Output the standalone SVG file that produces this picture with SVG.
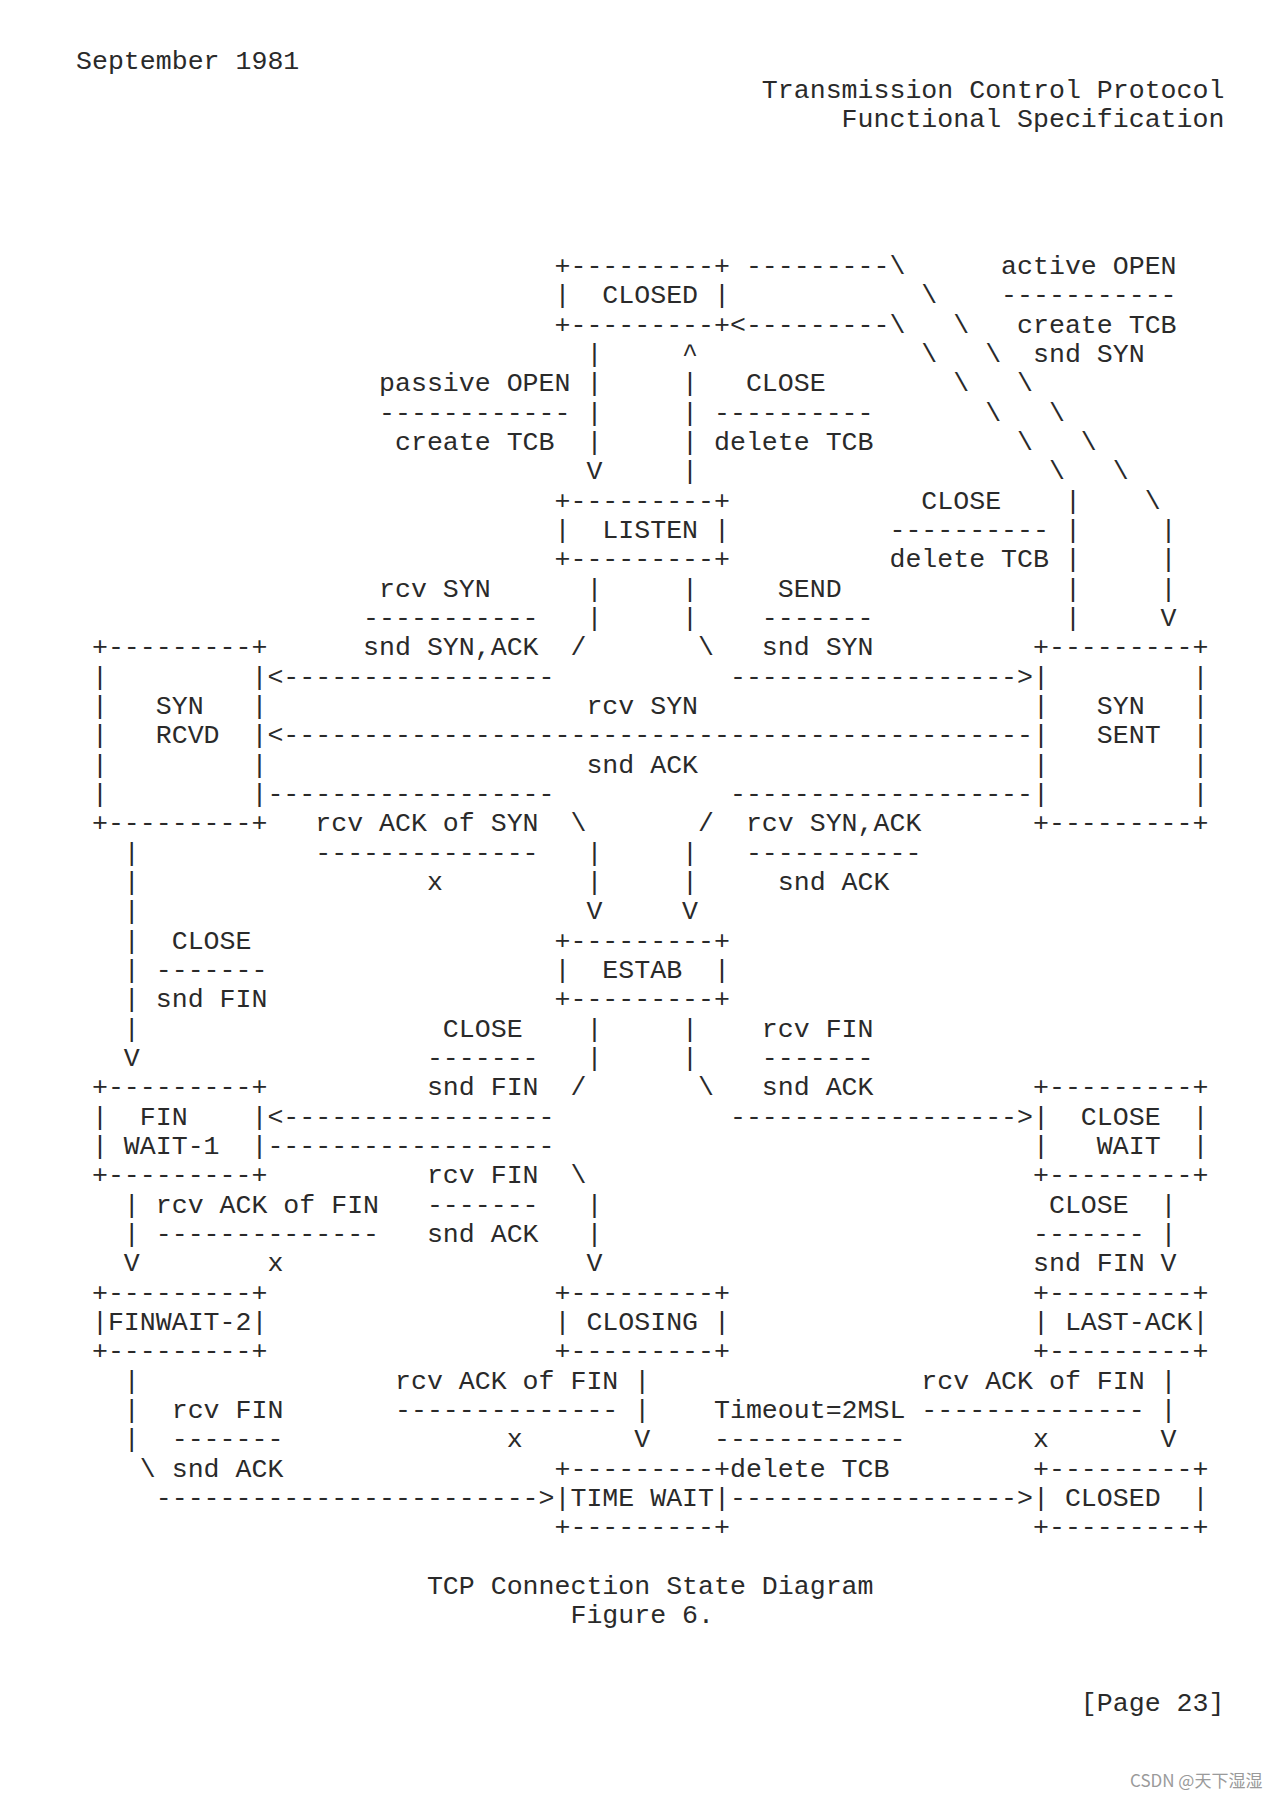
<svg xmlns="http://www.w3.org/2000/svg" width="1282" height="1799" viewBox="0 0 1282 1799">
<style>
text { font-family: "Liberation Mono", "DejaVu Sans Mono", monospace; font-size: 26.58px; fill: #2a2a2a; white-space: pre; }
.wm { font-family: "Noto Sans CJK SC", "Noto Sans", sans-serif; font-size: 17px; fill: #9a9a9a; }
</style>
<rect width="1282" height="1799" fill="#ffffff"/>
<g id="header" xml:space="preserve">
<text x="76" y="68.7">September 1981</text>
<text x="761.85" y="98.0">Transmission Control Protocol</text>
<text x="841.6" y="127.4">Functional Specification</text>
</g>
<g id="nodes" xml:space="preserve">
<g id="node-closed">
<text x="554.5" y="274.0">+---------+</text>
<text x="554.5" y="303.3">|  CLOSED |</text>
<text x="554.5" y="332.7">+---------+</text>
</g>
<g id="node-listen">
<text x="554.5" y="508.6">+---------+</text>
<text x="554.5" y="538.0">|  LISTEN |</text>
<text x="554.5" y="567.3">+---------+</text>
</g>
<g id="node-syn-rcvd">
<text x="91.95" y="655.3">+---------+</text>
<text x="91.95" y="684.6">|         |</text>
<text x="91.95" y="714.0">|   SYN   |</text>
<text x="91.95" y="743.3">|   RCVD  |</text>
<text x="91.95" y="772.6">|         |</text>
<text x="91.95" y="801.9">|         |</text>
<text x="91.95" y="831.3">+---------+</text>
</g>
<g id="node-syn-sent">
<text x="1033" y="655.3">+---------+</text>
<text x="1033" y="684.6">|         |</text>
<text x="1033" y="714.0">|   SYN   |</text>
<text x="1033" y="743.3">|   SENT  |</text>
<text x="1033" y="772.6">|         |</text>
<text x="1033" y="801.9">|         |</text>
<text x="1033" y="831.3">+---------+</text>
</g>
<g id="node-estab">
<text x="554.5" y="948.6">+---------+</text>
<text x="554.5" y="977.9">|  ESTAB  |</text>
<text x="554.5" y="1007.3">+---------+</text>
</g>
<g id="node-fin-wait-1">
<text x="91.95" y="1095.2">+---------+</text>
<text x="91.95" y="1124.6">|  FIN    |</text>
<text x="91.95" y="1153.9">| WAIT-1  |</text>
<text x="91.95" y="1183.2">+---------+</text>
</g>
<g id="node-close-wait">
<text x="1033" y="1095.2">+---------+</text>
<text x="1033" y="1124.6">|  CLOSE  |</text>
<text x="1033" y="1153.9">|   WAIT  |</text>
<text x="1033" y="1183.2">+---------+</text>
</g>
<g id="node-finwait-2">
<text x="91.95" y="1300.6">+---------+</text>
<text x="91.95" y="1329.9">|FINWAIT-2|</text>
<text x="91.95" y="1359.2">+---------+</text>
</g>
<g id="node-closing">
<text x="554.5" y="1300.6">+---------+</text>
<text x="554.5" y="1329.9">| CLOSING |</text>
<text x="554.5" y="1359.2">+---------+</text>
</g>
<g id="node-last-ack">
<text x="1033" y="1300.6">+---------+</text>
<text x="1033" y="1329.9">| LAST-ACK|</text>
<text x="1033" y="1359.2">+---------+</text>
</g>
<g id="node-time-wait">
<text x="554.5" y="1476.5">+---------+</text>
<text x="554.5" y="1505.9">|TIME WAIT|</text>
<text x="554.5" y="1535.2">+---------+</text>
</g>
<g id="node-closed-final">
<text x="1033" y="1476.5">+---------+</text>
<text x="1033" y="1505.9">| CLOSED  |</text>
<text x="1033" y="1535.2">+---------+</text>
</g>
</g>
<g id="connectors" xml:space="preserve">
<text x="745.9" y="274.0">---------\</text>
<text x="921.35" y="303.3">\</text>
<text x="729.95" y="332.7">&lt;---------\</text>
<text x="953.25" y="332.7">\</text>
<text x="586.4" y="362.0">|</text><text x="682.1" y="362.0">^</text><text x="921.35" y="362.0">\</text><text x="985.15" y="362.0">\</text>
<text x="586.4" y="391.3">|</text><text x="682.1" y="391.3">|</text><text x="953.25" y="391.3">\</text><text x="1017.05" y="391.3">\</text>
<text x="586.4" y="420.7">|</text><text x="682.1" y="420.7">|</text><text x="985.15" y="420.7">\</text><text x="1048.95" y="420.7">\</text>
<text x="586.4" y="450.0">|</text><text x="682.1" y="450.0">|</text><text x="1017.05" y="450.0">\</text><text x="1080.85" y="450.0">\</text>
<text x="586.4" y="479.3">V</text><text x="682.1" y="479.3">|</text><text x="1048.95" y="479.3">\</text><text x="1112.75" y="479.3">\</text>
<text x="1064.9" y="508.6">|</text><text x="1144.65" y="508.6">\</text>
<text x="1064.9" y="538.0">|</text><text x="1160.6" y="538.0">|</text>
<text x="1064.9" y="567.3">|</text><text x="1160.6" y="567.3">|</text>
<text x="586.4" y="596.6">|</text><text x="682.1" y="596.6">|</text><text x="1064.9" y="596.6">|</text><text x="1160.6" y="596.6">|</text>
<text x="586.4" y="626.0">|</text><text x="682.1" y="626.0">|</text><text x="1064.9" y="626.0">|</text><text x="1160.6" y="626.0">V</text>
<text x="570.45" y="655.3">/</text><text x="698.05" y="655.3">\</text>
<text x="267.4" y="684.6">&lt;-----------------</text><text x="729.95" y="684.6">------------------&gt;</text>
<text x="267.4" y="743.3">&lt;-----------------------------------------------</text>
<text x="267.4" y="801.9">------------------</text><text x="729.95" y="801.9">-------------------</text>
<text x="570.45" y="831.3">\</text><text x="698.05" y="831.3">/</text>
<text x="123.85" y="860.6">|</text><text x="586.4" y="860.6">|</text><text x="682.1" y="860.6">|</text>
<text x="123.85" y="889.9">|</text><text x="586.4" y="889.9">|</text><text x="682.1" y="889.9">|</text>
<text x="123.85" y="919.3">|</text><text x="586.4" y="919.3">V</text><text x="682.1" y="919.3">V</text>
<text x="123.85" y="948.6">|</text>
<text x="123.85" y="977.9">|</text>
<text x="123.85" y="1007.3">|</text>
<text x="123.85" y="1036.6">|</text><text x="586.4" y="1036.6">|</text><text x="682.1" y="1036.6">|</text>
<text x="123.85" y="1065.9">V</text><text x="586.4" y="1065.9">|</text><text x="682.1" y="1065.9">|</text>
<text x="570.45" y="1095.2">/</text><text x="698.05" y="1095.2">\</text>
<text x="267.4" y="1124.6">&lt;-----------------</text><text x="729.95" y="1124.6">------------------&gt;</text>
<text x="267.4" y="1153.9">------------------</text>
<text x="570.45" y="1183.2">\</text>
<text x="123.85" y="1212.6">|</text><text x="586.4" y="1212.6">|</text><text x="1160.6" y="1212.6">|</text>
<text x="123.85" y="1241.9">|</text><text x="586.4" y="1241.9">|</text><text x="1160.6" y="1241.9">|</text>
<text x="123.85" y="1271.2">V</text><text x="586.4" y="1271.2">V</text><text x="1160.6" y="1271.2">V</text>
<text x="123.85" y="1388.6">|</text><text x="634.25" y="1388.6">|</text><text x="1160.6" y="1388.6">|</text>
<text x="123.85" y="1417.9">|</text><text x="634.25" y="1417.9">|</text><text x="1160.6" y="1417.9">|</text>
<text x="123.85" y="1447.2">|</text><text x="634.25" y="1447.2">V</text><text x="1160.6" y="1447.2">V</text>
<text x="139.8" y="1476.5">\</text>
<text x="155.75" y="1505.9">------------------------&gt;</text><text x="729.95" y="1505.9">------------------&gt;</text>
</g>
<g id="labels" xml:space="preserve">
<text x="1001.1" y="274.0">active OPEN</text>
<text x="1001.1" y="303.3">-----------</text>
<text x="1017.05" y="332.7">create TCB</text>
<text x="1033" y="362.0">snd SYN</text>
<text x="379.05" y="391.3">passive OPEN</text><text x="745.9" y="391.3">CLOSE</text>
<text x="379.05" y="420.7">------------</text><text x="714" y="420.7">----------</text>
<text x="395" y="450.0">create TCB</text><text x="714" y="450.0">delete TCB</text>
<text x="921.35" y="508.6">CLOSE</text>
<text x="889.45" y="538.0">----------</text>
<text x="889.45" y="567.3">delete TCB</text>
<text x="379.05" y="596.6">rcv SYN</text><text x="777.8" y="596.6">SEND</text>
<text x="363.1" y="626.0">-----------</text><text x="761.85" y="626.0">-------</text>
<text x="363.1" y="655.3">snd SYN,ACK</text><text x="761.85" y="655.3">snd SYN</text>
<text x="586.4" y="714.0">rcv SYN</text>
<text x="586.4" y="772.6">snd ACK</text>
<text x="315.25" y="831.3">rcv ACK of SYN</text><text x="745.9" y="831.3">rcv SYN,ACK</text>
<text x="315.25" y="860.6">--------------</text><text x="745.9" y="860.6">-----------</text>
<text x="426.9" y="889.9">x</text><text x="777.8" y="889.9">snd ACK</text>
<text x="171.7" y="948.6">CLOSE</text>
<text x="155.75" y="977.9">-------</text>
<text x="155.75" y="1007.3">snd FIN</text>
<text x="442.85" y="1036.6">CLOSE</text><text x="761.85" y="1036.6">rcv FIN</text>
<text x="426.9" y="1065.9">-------</text><text x="761.85" y="1065.9">-------</text>
<text x="426.9" y="1095.2">snd FIN</text><text x="761.85" y="1095.2">snd ACK</text>
<text x="426.9" y="1183.2">rcv FIN</text>
<text x="155.75" y="1212.6">rcv ACK of FIN</text><text x="426.9" y="1212.6">-------</text><text x="1048.95" y="1212.6">CLOSE</text>
<text x="155.75" y="1241.9">--------------</text><text x="426.9" y="1241.9">snd ACK</text><text x="1033" y="1241.9">-------</text>
<text x="267.4" y="1271.2">x</text><text x="1033" y="1271.2">snd FIN</text>
<text x="395" y="1388.6">rcv ACK of FIN</text><text x="921.35" y="1388.6">rcv ACK of FIN</text>
<text x="171.7" y="1417.9">rcv FIN</text><text x="395" y="1417.9">--------------</text><text x="714" y="1417.9">Timeout=2MSL</text><text x="921.35" y="1417.9">--------------</text>
<text x="171.7" y="1447.2">-------</text><text x="506.65" y="1447.2">x</text><text x="714" y="1447.2">------------</text><text x="1033" y="1447.2">x</text>
<text x="171.7" y="1476.5">snd ACK</text><text x="729.95" y="1476.5">delete TCB</text>
</g>
<g id="footer" xml:space="preserve">
<text x="426.9" y="1593.9">TCP Connection State Diagram</text>
<text x="570.45" y="1623.2">Figure 6.</text>
<text x="1080.85" y="1711.2">[Page 23]</text>
</g>
<text class="wm" x="1130" y="1787">CSDN @天下湿湿</text>
</svg>
